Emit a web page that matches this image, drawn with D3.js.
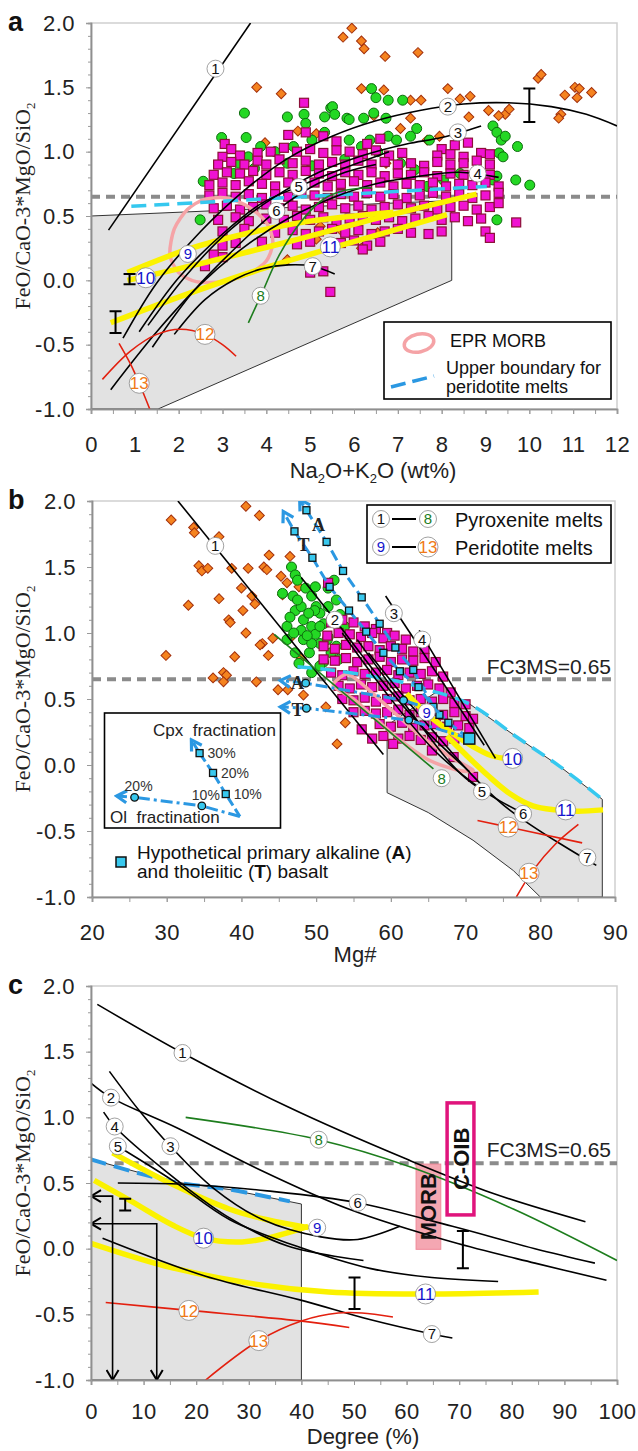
<!DOCTYPE html>
<html><head><meta charset="utf-8">
<script src="https://cdn.jsdelivr.net/npm/d3@7"></script>
<style>
body{margin:0;background:#fff;}
</style></head><body>
<script>
// ---------- shared ----------
const yTickVals = [-1, -0.5, 0, 0.5, 1, 1.5, 2];
const FC3MS = 0.65;

// ---------- panel a : Na2O+K2O ----------
const aXTicks = [0,1,2,3,4,5,6,7,8,9,10,11,12];
const aDiamonds = [[5.75,1.89],[5.95,1.96],[6.17,1.86],[6.23,1.80],[6.71,1.74],[7.46,1.77],[3.78,1.50],[4.34,1.45],[6.17,1.49],[6.68,1.48],[7.29,1.40],[7.53,1.40],[8.14,1.49],[8.42,1.41],[8.65,1.43],[8.62,1.27],[9.07,1.32],[9.45,1.29],[9.54,1.33],[10.2,1.57],[10.27,1.60],[10.81,1.44],[11.04,1.50],[11.14,1.49],[11.09,1.42],[11.42,1.46],[10.72,1.29],[10.67,1.26],[4.72,1.16],[7.06,1.18],[7.29,1.26],[7.67,1.09],[7.95,1.12],[6.73,0.91],[3.97,1.07],[5.14,1.14],[4.48,0.16],[5.14,0.32],[6.17,0.25],[5.23,0.42],[5.7,0.39],[6.54,0.37],[9.3,1.28],[6.45,1.28]];
const aCircles = [[2.98,1.11],[2.56,0.77],[2.49,0.47],[3.5,1.30],[3.54,1.11],[4.48,1.27],[4.86,1.29],[4.9,1.22],[5.33,1.27],[5.47,1.34],[5.51,1.35],[5.56,1.29],[5.84,1.26],[5.89,1.25],[6.22,1.26],[6.4,1.49],[6.5,1.42],[6.78,1.40],[6.45,1.30],[6.73,1.26],[7.11,1.40],[7.43,1.18],[7.72,1.09],[7.29,1.12],[6.78,1.12],[6.97,1.09],[6.36,1.09],[6.17,1.04],[6.54,1.00],[5.89,1.09],[5.33,1.15],[5.04,1.09],[4.62,1.04],[4.2,1.00],[3.87,1.04],[3.59,0.96],[3.36,0.91],[3.26,0.83],[9.17,1.20],[9.26,1.15],[9.36,1.09],[9.45,1.12],[9.31,0.99],[9.4,0.96],[9.73,1.04],[9.17,0.78],[9.26,0.81],[9.69,0.78],[10.01,0.74],[9.26,0.47],[8.04,0.78],[7.67,0.73],[7.06,0.91],[7.39,0.86],[8.42,0.83],[5.79,0.94],[5.04,0.89],[4.48,0.91],[3.73,0.87]];
const aSquares = [[4.5,1.13],[4.86,1.38],[4.9,1.15],[5.3,1.12],[5.6,1.08],[6.3,1.06],[6.6,1.1],[8.0,1.02],[8.3,1.05],[8.6,1.07],[3.05,1.06],[3.2,1.02],
[3.0,0.96],[3.4,0.97],[3.8,0.99],[4.1,1.0],[4.4,1.03],[4.7,1.0],[5.0,1.02],[5.3,0.99],[5.6,1.01],[5.9,1.0],[6.2,0.98],[6.5,1.01],[6.8,0.97],[7.1,0.99],[7.9,0.97],[8.2,0.98],[8.5,0.96],[8.9,0.99],[9.1,0.98],
[2.9,0.9],[3.2,0.92],[3.5,0.9],[3.8,0.93],[4.0,0.9],[4.3,0.94],[4.6,0.91],[4.9,0.93],[5.2,0.9],[5.5,0.92],[5.8,0.9],[6.1,0.93],[6.4,0.9],[6.7,0.92],[7.0,0.9],[7.3,0.91],[7.6,0.89],[7.9,0.92],[8.2,0.9],[8.5,0.91],[8.8,0.93],[9.1,0.9],
[2.8,0.82],[3.1,0.84],[3.4,0.83],[3.7,0.85],[4.0,0.82],[4.3,0.84],[4.6,0.82],[4.9,0.85],[5.2,0.83],[5.5,0.81],[5.8,0.84],[6.1,0.82],[6.4,0.84],[6.7,0.81],[7.0,0.83],[7.3,0.82],[7.6,0.84],[7.9,0.81],[8.2,0.83],[8.5,0.82],[8.8,0.84],[9.1,0.82],
[2.7,0.74],[3.0,0.76],[3.3,0.74],[3.6,0.77],[3.9,0.75],[4.2,0.73],[4.5,0.76],[4.8,0.74],[5.1,0.76],[5.4,0.73],[5.7,0.75],[6.0,0.77],[6.3,0.74],[6.6,0.76],[6.9,0.73],[7.2,0.75],[7.5,0.74],[7.8,0.76],[8.1,0.73],[8.4,0.75],[8.7,0.74],[9.0,0.76],[9.3,0.73],
[2.7,0.66],[3.0,0.68],[3.3,0.65],[3.6,0.67],[3.9,0.64],[4.2,0.67],[4.5,0.65],[4.8,0.68],[5.1,0.66],[5.4,0.64],[5.7,0.67],[6.0,0.65],[6.3,0.68],[6.6,0.65],[6.9,0.67],[7.2,0.64],[7.5,0.66],[7.8,0.68],[8.1,0.65],[8.4,0.67],[8.7,0.64],[9.0,0.66],[9.3,0.68],
[2.8,0.56],[3.1,0.58],[3.4,0.55],[3.7,0.57],[4.0,0.59],[4.3,0.56],[4.6,0.58],[4.9,0.55],[5.2,0.57],[5.5,0.59],[5.8,0.56],[6.1,0.58],[6.4,0.55],[6.7,0.57],[7.0,0.59],[7.3,0.56],[7.6,0.58],[7.9,0.55],[8.2,0.57],[8.5,0.58],[8.8,0.55],[9.1,0.57],[9.3,0.6],
[2.9,0.47],[3.3,0.49],[3.6,0.46],[4.0,0.48],[4.4,0.47],[4.7,0.5],[5.0,0.47],[5.3,0.49],[5.6,0.46],[5.9,0.48],[6.2,0.5],[6.5,0.47],[6.8,0.49],[7.1,0.46],[7.4,0.48],[7.7,0.5],[8.0,0.47],[8.3,0.49],[8.6,0.46],[8.9,0.48],[9.7,0.45],
[3.0,0.38],[3.5,0.4],[4.2,0.37],[4.6,0.39],[4.9,0.36],[5.2,0.38],[5.5,0.4],[5.8,0.37],[6.1,0.39],[6.4,0.36],[6.7,0.38],[7.0,0.4],[7.3,0.37],[7.7,0.36],[8.0,0.38],[9.0,0.38],[9.1,0.33],
[3.0,0.27],[3.3,0.29],[3.9,0.3],[4.7,0.28],[5.0,0.3],[5.4,0.27],[5.7,0.29],[6.0,0.31],[6.3,0.27],[6.6,0.3],[6.2,0.24],
[2.6,0.11],[3.0,0.18],[5.0,0.06],[5.3,0.07],[5.46,-0.09],[2.8,0.2]];
const aBlack = [
  [[0.4,0.39],[3.64,2.0]],
  [[0.73,-0.45],[1.5,-0.02],[2.5,0.38],[3.5,0.7],[4.5,0.95],[5.5,1.12],[6.5,1.24],[7.5,1.32],[8.5,1.37],[9.5,1.38],[10.5,1.35],[11.3,1.29],[12,1.2]],
  [[1.3,-0.35],[2.2,0.05],[3.2,0.4],[4.2,0.65],[5.2,0.84],[6.2,0.97],[7.2,1.06],[8.0,1.11],[8.9,1.2]],
  [[0.45,-0.85],[1.5,-0.4],[2.5,-0.03],[3.5,0.26],[4.5,0.48],[5.5,0.64],[6.5,0.75],[7.5,0.81],[8.4,0.84],[9.3,0.8]],
  [[1.1,-0.4],[2.0,0.02],[3.0,0.36],[3.9,0.6],[4.74,0.73],[5.6,0.85],[6.8,1.0]],
  [[1.4,-0.52],[2.3,-0.1],[3.2,0.22],[4.23,0.54],[5.0,0.72],[5.8,0.84],[6.5,0.9]],
  [[1.9,-0.42],[2.6,-0.15],[3.3,0.01],[3.9,0.09],[4.5,0.12],[5.06,0.11],[5.56,0.05]]
];
const aGreen = [[3.59,-0.33],[3.9,-0.1],[4.3,0.2],[4.8,0.46],[5.3,0.63],[5.8,0.7],[6.4,0.72]];
const aYellow = [
  [[0.83,0.06],[2.2,0.24],[3.5,0.36],[5,0.46],[6.9,0.53]],
  [[0.83,0.0],[2.5,0.13],[4.5,0.3],[6.5,0.48],[8.8,0.67]],
  [[0.45,-0.33],[2,-0.13],[4,0.1],[6,0.3],[8.12,0.51]]
];
const aRed = [
  [[0.26,-0.77],[0.9,-0.55],[1.5,-0.42],[2.04,-0.38],[2.6,-0.42],[3.0,-0.5],[3.31,-0.59]],
  [[0.64,-0.49],[0.9,-0.65],[1.1,-0.8],[1.34,-1.0]]
];
const aMorbLoop = [[1.8,0.2],[1.9,0.4],[2.2,0.55],[2.6,0.63],[3.1,0.64],[3.6,0.57],[4.0,0.45],[4.15,0.3],[4.0,0.15],[3.6,0.05],[3.0,-0.01],[2.4,-0.01],[2.0,0.06]];
const aBoundary = [[0.92,0.575],[9.03,0.73]];
const aField = [[0,0.5],[8.23,0.62],[8.23,0.0],[1.53,-1],[0,-1]];
const aErrors = [[10,1.23,1.49],[0.56,-0.41,-0.24],[0.88,-0.03,0.05]];
const aTags = [[2.84,1.645],[8.14,1.35],[8.37,1.15],[8.82,0.83],[4.74,0.725],[4.23,0.54],[5.06,0.11],[3.87,-0.12],[2.21,0.205],[1.25,0.02],[5.46,0.26],[2.6,-0.42],[1.1,-0.8]];

// ---------- panel b : Mg# ----------
const bXTicks = [20,30,40,50,60,70,80,90];
const bDiamonds = [[30.6,1.856],[33.6,1.80],[33.7,1.76],[40.6,1.96],[42.4,1.89],[37.0,1.73],[34.3,1.51],[34.7,1.47],[35.5,1.49],[38.7,1.49],[40.9,1.49],[43.0,1.50],[43.4,1.48],[43.7,1.59],[45.3,1.43],[46.5,1.58],[32.9,1.21],[37.0,1.26],[38.3,1.10],[38.5,1.08],[40.0,1.34],[40.2,1.17],[41.4,1.28],[41.8,1.22],[42.8,0.92],[44.2,0.96],[36.2,0.66],[37.6,0.70],[38.0,0.68],[37.6,0.63],[42.0,0.63],[29.9,0.83],[39.1,0.82],[42.5,0.91],[43.6,0.83],[46.5,0.96],[48.0,0.81],[44.9,0.57],[46.2,0.57],[48.3,0.53],[51.3,0.44],[53.9,0.32],[52.8,0.16],[46.1,1.38],[45.5,1.29],[47.7,1.35],[40.6,1.0]];
const bCircles = [[46.7,1.50],[47.2,1.44],[47.5,1.40],[45.5,1.30],[46.9,1.28],[48.6,1.34],[49.4,1.28],[50.0,1.20],[47.2,1.17],[48.3,1.10],[46.1,1.05],[49.4,1.05],[51.0,1.07],[52.4,1.40],[51.6,1.34],[52.7,1.25],[48.3,0.95],[50.5,0.92],[49.1,0.85],[47.7,0.77],[49.4,0.70],[51.0,0.78],[52.7,0.90],[53.8,1.05],[50.5,1.15],[49.8,1.17],[46.1,0.95],[49.9,0.99],[47.2,0.85],[51.6,0.97],[53.2,1.14],[49.9,1.35],[51.6,1.20],[48.0,1.02],[49.4,0.92],[50.5,0.75],[48,1.2],[47.5,1.25],[49,1.15],[50.5,1.05],[51.5,0.95],[48.8,0.98],[47,1.0],[46.5,1.12],[52,0.85],[53,0.8]];
const bSquares = [[51.6,1.38],[52,1.08],[53.5,1.1],[55,1.08],[56.5,1.05],[58,1.03],[59.5,1.0],
[51.5,0.98],[53,1.0],[54.5,0.99],[56,0.97],[57.5,1.0],[59,0.96],[60.5,0.98],[62,0.95],
[51,0.9],[52.5,0.88],[54,0.91],[55.5,0.89],[57,0.9],[58.5,0.87],[60,0.9],[61.5,0.88],[63,0.86],[64.5,0.88],
[51,0.8],[52.5,0.79],[54,0.81],[55.5,0.78],[57,0.8],[58.5,0.82],[60,0.78],[61.5,0.8],[63,0.79],[64.5,0.81],[66,0.78],
[52,0.7],[53.5,0.68],[55,0.71],[56.5,0.69],[58,0.7],[59.5,0.72],[61,0.68],[62.5,0.7],[64,0.69],[65.5,0.71],[67,0.67],
[53,0.6],[54.5,0.58],[56,0.61],[57.5,0.59],[59,0.6],[60.5,0.62],[62,0.58],[63.5,0.6],[65,0.61],[66.5,0.58],[68,0.55],
[53.5,0.5],[55,0.49],[56.5,0.51],[58,0.48],[59.5,0.5],[61,0.52],[62.5,0.49],[64,0.5],[65.5,0.48],[67,0.5],[68.5,0.47],[70,0.46],
[55,0.4],[56.5,0.41],[58,0.39],[59.5,0.4],[61,0.42],[62.5,0.38],[64,0.4],[65.5,0.41],[67,0.38],[68.5,0.4],[70,0.37],[71,0.35],
[56.1,0.27],[58.5,0.31],[60,0.29],[61.5,0.32],[63,0.28],[64.5,0.3],[66,0.31],[67.5,0.29],[69,0.3],[70.5,0.28],
[59,0.22],[61,0.2],[62.5,0.22],[64,0.19],[65.5,0.21],[67,0.18],[68.5,0.2],[60.3,0.16],
[65.5,0.11],[68.4,0.06],[71.0,-0.09],[57.5,0.2]];
const bBlack = [
  [[31.5,2.0],[59.0,0.08]],
  [[48.0,1.42],[52.5,1.10],[58.5,0.66],[64,0.3],[70.5,-0.05]],
  [[59.3,1.28],[72.5,0.15]],
  [[63.8,1.02],[74.0,0.05]],
  [[53.5,1.0],[60,0.5],[66,0.1],[72.0,-0.18]],
  [[55.5,0.95],[62,0.45],[70,-0.1],[77.5,-0.36]],
  [[57,0.85],[65,0.3],[75,-0.3],[87.5,-0.76]]
];
const bGreen = [[44.4,0.99],[65.7,-0.03]];
const bYellow = [
  [[62.1,0.54],[65,0.38],[68,0.25],[71,0.14],[73.5,0.07],[75.3,0.05]],
  [[67.5,0.22],[70,0.08],[73,-0.08],[76,-0.22],[79,-0.31],[82,-0.34],[85,-0.35],[88.4,-0.34]]
];
const bRed = [
  [[71.6,-0.42],[85.6,-0.59]],
  [[76.8,-1.0],[79,-0.8],[82,-0.6],[85.1,-0.45]]
];
const bMorbLoop = [[52.3,0.60],[54.1,0.69],[56,0.62],[60,0.42],[64,0.22],[68,0.06],[71,-0.04],[69,-0.04],[65,0.04],[61,0.2],[57,0.4],[55,0.5]];
const bBoundary = [[47.5,0.745],[52,0.72],[57.6,0.67],[62,0.62],[65,0.57],[70.6,0.46],[76.9,0.21],[82.6,-0.01],[88.3,-0.26]];
const bField = [[59.5,0.30],[59.5,-0.21],[65,-0.36],[71,-0.57],[76.4,-0.8],[80,-1.0],[88.3,-1.0],[88.3,-0.26],[82.6,-0.01],[76.9,0.21],[70.6,0.46],[66,0.55]];
const bCpxA = [[70.5,0.20],[67.7,0.32],[65.7,0.44],[63.0,0.72],[60.6,0.89],[58.5,1.07],[56.1,1.27],[53.6,1.47],[51.4,1.69],[48.7,1.93],[47.8,2.01]];
const bCpxT = [[66.5,0.38],[63.7,0.59],[61.2,0.71],[59.0,0.85],[56.7,1.01],[54.4,1.17],[51.8,1.35],[49.5,1.57],[47.1,1.77],[45.6,1.92]];
const bOlA = [[66.5,0.40],[61.7,0.49],[48.6,0.62],[45.2,0.64]];
const bOlT = [[70.5,0.2],[62.4,0.34],[48.7,0.43],[45.2,0.44]];
const bInsetCpx = [[39.8,-0.39],[37.9,-0.22],[36.2,-0.06],[34.4,0.09],[33.3,0.19]];
const bInsetOl = [[39.8,-0.39],[34.7,-0.31],[25.7,-0.245],[23.3,-0.235]];
const bInsetCpxPct = ["10%","20%","30%"];
const bInsetOlPct = ["10%","20%"];
const bTags = [[36.5,1.66],[52.5,1.10],[60.4,1.15],[64.2,0.95],[72.2,-0.2],[77.7,-0.37],[86.3,-0.7],[66.8,-0.1],[64.8,0.40],[76.3,0.05],[83.4,-0.34],[75.7,-0.47],[78.5,-0.82]];

// ---------- panel c : Degree ----------
const cXTicks = [0,10,20,30,40,50,60,70,80,90,100];
const cBlack = [
  [[1.2,1.86],[17.4,1.49],[37.4,1.08],[60.1,0.68],[76.5,0.42],[94,0.205]],
  [[0,1.26],[3.8,1.15],[16.3,0.92],[31.1,0.62],[49.1,0.30],[68.7,0.05],[84.4,-0.11],[98,-0.24]],
  [[3.5,1.35],[9.2,1.05],[15.1,0.78],[23.3,0.46],[32.7,0.22],[43.7,0.09],[50.7,0.07],[58.7,0.17]],
  [[2.4,1.04],[4.5,0.93],[13.9,0.6],[25.7,0.25],[37.4,0.02],[51.8,-0.09]],
  [[5.1,0.78],[15.5,0.52],[26.4,0.22],[39,0.02],[53,-0.15],[64.8,-0.22],[77.4,-0.25]],
  [[5.1,0.5],[17.8,0.49],[33.5,0.44],[50.7,0.35],[68.7,0.17],[84.4,0.0],[95.8,-0.11]],
  [[2.2,0.08],[21.8,-0.21],[39.7,-0.39],[53,-0.54],[64.8,-0.65],[68.7,-0.68]]
];
const cGreen = [[18.0,1.0],[43.3,0.83],[60.9,0.62],[80.4,0.30],[100,-0.09]];
const cYellow = [
  [[4.1,0.73],[15.5,0.49],[26.4,0.30],[33.5,0.22],[41.3,0.16]],
  [[0.6,0.52],[7.7,0.36],[15.5,0.18],[21.4,0.08],[28,0.05],[33.5,0.08],[41.3,0.17]],
  [[0,0.04],[13.9,-0.13],[29.6,-0.26],[45.2,-0.33],[63.6,-0.345],[85.1,-0.33]]
];
const cRed = [
  [[2.8,-0.41],[18.6,-0.47],[39.7,-0.55],[49.1,-0.6]],
  [[21.8,-1.0],[31.9,-0.70],[40,-0.55],[47,-0.49],[51.5,-0.49],[57.4,-0.52]]
];
const cBoundary = [[0,0.68],[15.5,0.51],[26.4,0.45],[37.8,0.36]];
const cField = [[0,0.68],[15.5,0.51],[26.4,0.45],[40,0.34],[40,-1],[0,-1]];
const cErrors = [[70.7,-0.15,0.134],[50.1,-0.46,-0.22],[6.5,0.29,0.38]];
const cArrows = [[4.1,0.40],[12.5,0.19]];
const cMorbBox = [61.8,66.5,-0.005,0.644];
const cOibBox = [67.7,72.8,0.257,1.11];
const cTags = [[17.4,1.49],[3.8,1.15],[15.1,0.78],[4.5,0.93],[5.1,0.78],[50.7,0.35],[64.8,-0.65],[43.3,0.83],[43.0,0.16],[21.4,0.08],[63.6,-0.345],[18.6,-0.47],[31.9,-0.70]];

// ---------- styles ----------
const SANS = "Liberation Sans, Arial, sans-serif";
const SERIF = "Liberation Serif, Times New Roman, serif";
const col = {
  sq: "#f012d2", sqEdge: "#8c1038",
  ci: "#24d824", ciEdge: "#0d6b0d",
  di: "#f5831f", diEdge: "#a3300c",
  field: "#e2e2e2", yellow: "#fbf200", red: "#e3200f", green: "#1d7d1d",
  pink: "#f5a3a6", cyan: "#35c8ef", blue: "#2b98e2", dash: "#8b8b8b"
};
const tagColor = i => i < 7 ? "#111" : i === 7 ? "#1d7d1d" : i < 11 ? "#1414cc" : "#f07a18";

const svg = d3.select("body").append("svg").attr("width", 638).attr("height", 1451).attr("font-family", SANS);
const defs = svg.append("defs");
defs.append("marker").attr("id", "chev").attr("viewBox", "0 0 16 16").attr("refX", 13).attr("refY", 8)
  .attr("markerWidth", 16).attr("markerHeight", 16).attr("markerUnits", "userSpaceOnUse").attr("orient", "auto")
  .append("path").attr("d", "M3,2L13,8L3,14").attr("fill", "none").attr("stroke", col.blue).attr("stroke-width", 3.2);
defs.append("marker").attr("id", "vhead").attr("viewBox", "0 0 14 14").attr("refX", 12).attr("refY", 7)
  .attr("markerWidth", 14).attr("markerHeight", 14).attr("markerUnits", "userSpaceOnUse").attr("orient", "auto-start-reverse")
  .append("path").attr("d", "M2,1L12,7L2,13").attr("fill", "none").attr("stroke", "#000").attr("stroke-width", 2);

function makePanel(id, dom, left, right, top, bottom) {
  const x = d3.scaleLinear().domain(dom).range([left, right]);
  const y = d3.scaleLinear().domain([-1, 2]).range([bottom, top]);
  const root = svg.append("g");
  defs.append("clipPath").attr("id", "clip" + id).append("rect")
    .attr("x", left).attr("y", top).attr("width", right - left).attr("height", bottom - top);
  root.append("rect").attr("x", left).attr("y", top).attr("width", right - left).attr("height", bottom - top)
    .attr("fill", "none").attr("stroke", "#cfcfcf").attr("stroke-width", 1.5);
  const g = root.append("g").attr("clip-path", `url(#clip${id})`);
  return { id, x, y, g, root, left, right, top, bottom };
}

const lineOf = (P, curve) => d3.line().x(d => P.x(d[0])).y(d => P.y(d[1])).curve(curve || d3.curveCatmullRom.alpha(0.5));

function curves(P, list, color, width, dash) {
  list.forEach(pts => {
    P.g.append("path").attr("d", lineOf(P)(pts)).attr("fill", "none").attr("stroke", color)
      .attr("stroke-width", width).attr("stroke-dasharray", dash || null);
  });
}
function field(P, pts) {
  P.g.append("path").attr("d", lineOf(P, d3.curveLinear)(pts) + "Z").attr("fill", col.field).attr("stroke", "#333").attr("stroke-width", 1);
}
function fcLine(P, x0, x1) {
  P.g.append("line").attr("x1", P.x(x0)).attr("x2", P.x(x1)).attr("y1", P.y(FC3MS)).attr("y2", P.y(FC3MS))
    .attr("stroke", col.dash).attr("stroke-width", 4).attr("stroke-dasharray", "9,6");
}
function diamonds(P, pts) {
  P.g.append("g").selectAll("rect").data(pts).join("rect")
    .attr("x", -3.5).attr("y", -3.5).attr("width", 7).attr("height", 7)
    .attr("transform", d => `translate(${P.x(d[0])},${P.y(d[1])}) rotate(45)`)
    .attr("fill", col.di).attr("stroke", col.diEdge).attr("stroke-width", 1);
}
function circles(P, pts) {
  P.g.append("g").selectAll("circle").data(pts).join("circle")
    .attr("cx", d => P.x(d[0])).attr("cy", d => P.y(d[1])).attr("r", 5)
    .attr("fill", col.ci).attr("stroke", col.ciEdge).attr("stroke-width", 1);
}
function squares(P, pts) {
  P.g.append("g").selectAll("rect").data(pts).join("rect")
    .attr("x", d => P.x(d[0]) - 4.5).attr("y", d => P.y(d[1]) - 4.5).attr("width", 9).attr("height", 9)
    .attr("fill", col.sq).attr("stroke", col.sqEdge).attr("stroke-width", 1.2);
}
function loop(P, pts) {
  P.g.append("path").attr("d", lineOf(P, d3.curveCardinalClosed.tension(0.2))(pts))
    .attr("fill", "none").attr("stroke", col.pink).attr("stroke-width", 3.5);
}
function errBars(P, list) {
  list.forEach(([xv, y0, y1]) => {
    const px = P.x(xv), a = P.y(y0), b = P.y(y1);
    P.g.append("path").attr("d", `M${px},${a}V${b}M${px - 6},${a}h12M${px - 6},${b}h12`)
      .attr("stroke", "#000").attr("stroke-width", 2).attr("fill", "none");
  });
}
function tagAt(g, cx, cy, txt, color) {
  const two = txt.length > 1;
  g.append("circle").attr("cx", cx).attr("cy", cy).attr("r", two ? 10 : 8.5)
    .attr("fill", "#fff").attr("stroke", "#8a8a8a").attr("stroke-width", 0.8);
  g.append("text").attr("x", cx).attr("y", cy).attr("dy", "0.36em").attr("text-anchor", "middle")
    .attr("font-size", two ? 17 : 15).attr("fill", color).text(txt);
}
function tags(P, list) {
  list.forEach((d, i) => tagAt(P.root, P.x(d[0]), P.y(d[1]), String(i + 1), tagColor(i)));
}
function axes(P, xTicks, xMinorStep, letter, xTitle, titleX, titleGap, xPad) {
  const yAxis = d3.axisLeft(P.y).tickValues(yTickVals).tickFormat(d => d.toFixed(1)).tickSize(5).tickPadding(11);
  const yMinor = d3.axisLeft(P.y).tickValues(d3.range(-1, 2.001, 0.1)).tickFormat("").tickSize(3);
  const [d0, d1] = P.x.domain();
  const xAxis = d3.axisBottom(P.x).tickValues(xTicks).tickFormat(d => d).tickSize(5).tickPadding(xPad);
  const xMinor = d3.axisBottom(P.x).tickValues(d3.range(d0, d1 + 0.001, xMinorStep)).tickFormat("").tickSize(5);
  const style = s => { s.select(".domain").attr("stroke", "#8f8f8f").attr("stroke-width", 1.5);
    s.selectAll(".tick line").attr("stroke", "#9a9a9a");
    s.selectAll("text").attr("font-size", 22).attr("fill", "#222").attr("font-family", SANS).attr("letter-spacing", 0.5); };
  P.root.append("g").attr("transform", `translate(${P.left},0)`).call(yMinor).call(style);
  P.root.append("g").attr("transform", `translate(${P.left},0)`).call(yAxis).call(style);
  P.root.append("g").attr("transform", `translate(0,${P.bottom})`).call(xMinor).call(style);
  P.root.append("g").attr("transform", `translate(0,${P.bottom})`).call(xAxis).call(style);
  P.root.append("text").attr("x", 8).attr("y", P.top + 8).attr("font-size", 27).attr("font-weight", "bold").attr("fill", "#111").text(letter);
  const yt = P.root.append("text").attr("transform", `translate(30,${(P.top + P.bottom) / 2 - 10}) rotate(-90)`)
    .attr("text-anchor", "middle").attr("font-size", 22).attr("fill", "#222").attr("font-family", SERIF);
  yt.append("tspan").text("FeO/CaO-3*MgO/SiO");
  yt.append("tspan").attr("font-size", 13).attr("dy", 5).text("2");
  const xt = P.root.append("text").attr("x", titleX).attr("y", P.bottom + titleGap).attr("text-anchor", "middle")
    .attr("font-size", 22).attr("fill", "#222");
  xTitle.forEach(([t, sub], i) => {
    const prevSub = i > 0 && xTitle[i - 1][1];
    const ts = xt.append("tspan").text(t);
    if (sub) ts.attr("font-size", 13).attr("dy", 5);
    else if (prevSub) ts.attr("dy", -5);
  });
}

// ================= PANEL A =================
const A = makePanel("a", [0, 12], 91, 617, 23, 409);
field(A, aField);
fcLine(A, 0, 12);
diamonds(A, aDiamonds);
circles(A, aCircles);
squares(A, aSquares);
loop(A, aMorbLoop);
curves(A, aYellow, col.yellow, 5.5);
curves(A, [aBoundary], col.cyan, 3.5, "15,8");
curves(A, aBlack, "#000", 1.6);
curves(A, [aGreen], col.green, 1.6);
curves(A, aRed, col.red, 1.6);
errBars(A, aErrors);
tags(A, aTags);
axes(A, aXTicks, 0.5, "a", [["Na", false], ["2", true], ["O+K", false], ["2", true], ["O (wt%)", false]], 373, 69, 22);
// legend a
(() => {
  const g = A.root.append("g");
  g.append("rect").attr("x", 384).attr("y", 322).attr("width", 227).attr("height", 77).attr("fill", "#fff").attr("stroke", "#000").attr("stroke-width", 1.6);
  g.append("ellipse").attr("cx", 419).attr("cy", 343).attr("rx", 15).attr("ry", 9).attr("transform", "rotate(-12,419,343)")
    .attr("fill", "none").attr("stroke", col.pink).attr("stroke-width", 3.5);
  g.append("text").attr("x", 450).attr("y", 347).attr("font-size", 18).attr("fill", "#111").text("EPR MORB");
  g.append("line").attr("x1", 391).attr("y1", 387).attr("x2", 434).attr("y2", 376).attr("stroke", col.blue).attr("stroke-width", 3.5).attr("stroke-dasharray", "15,7");
  g.append("text").attr("x", 446).attr("y", 374).attr("font-size", 18).attr("fill", "#111").text("Upper boundary for");
  g.append("text").attr("x", 446).attr("y", 393).attr("font-size", 18).attr("fill", "#111").text("peridotite melts");
})();

// ================= PANEL B =================
const B = makePanel("b", [20, 90], 92, 615, 501, 897);
field(B, bField);
fcLine(B, 20, 90);
diamonds(B, bDiamonds);
circles(B, bCircles);
squares(B, bSquares);
loop(B, bMorbLoop);
curves(B, [bBoundary], col.cyan, 3.5, "15,8");
curves(B, bYellow, col.yellow, 5.5);
curves(B, bBlack, "#000", 1.6);
curves(B, [bGreen], col.green, 1.6);
curves(B, bRed, col.red, 1.6);
// fractionation paths
function fracPath(P, pts, dash, mark, g) {
  const ln = d3.line().x(d => P.x(d[0])).y(d => P.y(d[1]));
  const tgt = g || P.g;
  tgt.append("path").attr("d", ln(pts)).attr("fill", "none").attr("stroke", col.blue).attr("stroke-width", 3)
    .attr("stroke-dasharray", dash).attr("marker-end", "url(#chev)");
  const inner = pts.slice(0, -1);
  if (mark === "sq") {
    tgt.append("g").selectAll("rect").data(g ? inner.slice(1) : inner).join("rect")
      .attr("x", d => P.x(d[0]) - 3.5).attr("y", d => P.y(d[1]) - 3.5).attr("width", 7).attr("height", 7)
      .attr("fill", "#38c8ee").attr("stroke", "#111").attr("stroke-width", 1.3);
  } else {
    tgt.append("g").selectAll("circle").data(inner.slice(1)).join("circle")
      .attr("cx", d => P.x(d[0])).attr("cy", d => P.y(d[1])).attr("r", 3.8)
      .attr("fill", "#38c8ee").attr("stroke", "#111").attr("stroke-width", 1.3);
  }
}
fracPath(B, bCpxA, "11,5", "sq");
fracPath(B, bCpxT, "11,5", "sq");
fracPath(B, bOlA, "12,4,3,4", "ci");
fracPath(B, bOlT, "12,4,3,4", "ci");
// big primary square
B.g.append("rect").attr("x", B.x(70.5) - 5.5).attr("y", B.y(0.2) - 5.5).attr("width", 11).attr("height", 11)
  .attr("fill", "#38c8ee").attr("stroke", "#111").attr("stroke-width", 1.5);
const serifBold = (x, y, t) => B.root.append("text").attr("x", B.x(x)).attr("y", B.y(y)).attr("dy", "0.35em")
  .attr("text-anchor", "middle").attr("font-family", SERIF).attr("font-weight", "bold")
  .attr("font-size", 18).attr("fill", "#222").text(t);
serifBold(50.3, 1.82, "A"); serifBold(48.3, 1.67, "T"); serifBold(47.5, 0.62, "A"); serifBold(47.5, 0.42, "T");
tags(B, bTags);
axes(B, bXTicks, 5, "b", [["Mg#", false]], 355, 65, 22);
B.root.append("text").attr("x", 611).attr("y", 674).attr("text-anchor", "end").attr("font-size", 21).attr("fill", "#222").text("FC3MS=0.65");
// legend b
(() => {
  const g = B.root.append("g");
  g.append("rect").attr("x", 367).attr("y", 505).attr("width", 244).attr("height", 58).attr("fill", "#fff").attr("stroke", "#000").attr("stroke-width", 1.6);
  [[519, "1", "8", "Pyroxenite melts", 0, 7], [547, "9", "13", "Peridotite melts", 8, 12]].forEach(([cy, t1, t2, lab, i1, i2]) => {
    tagAt(g, 381, cy, t1, tagColor(i1));
    g.append("line").attr("x1", 392).attr("x2", 416).attr("y1", cy).attr("y2", cy).attr("stroke", "#000").attr("stroke-width", 2);
    tagAt(g, 428, cy, t2, tagColor(i2));
    g.append("text").attr("x", 455).attr("y", cy + 8).attr("font-size", 20).attr("fill", "#111").text(lab);
  });
  // inset
  g.append("rect").attr("x", 104.5).attr("y", 713).attr("width", 176).attr("height", 115).attr("fill", "#fff").attr("stroke", "#000").attr("stroke-width", 1.6);
  g.append("text").attr("x", 153).attr("y", 736).attr("font-size", 17).attr("fill", "#222").attr("xml:space", "preserve").text("Cpx  fractination");
  g.append("text").attr("x", 110).attr("y", 823).attr("font-size", 17).attr("fill", "#222").attr("xml:space", "preserve").text("Ol  fractination");
  fracPath(B, bInsetCpx, "9,4", "sq", g);
  fracPath(B, bInsetOl, "12,4,3,4", "ci", g);
  bInsetCpx.slice(1, 4).forEach((d, i) => g.append("text").attr("x", B.x(d[0]) + 8).attr("y", B.y(d[1]) + 5)
    .attr("font-size", 14).attr("fill", "#333").text(bInsetCpxPct[i]));
  bInsetOl.slice(1, 3).forEach((d, i) => g.append("text").attr("x", B.x(d[0]) - 10).attr("y", B.y(d[1]) - 6)
    .attr("font-size", 14).attr("fill", "#333").text(bInsetOlPct[i]));
  // hypothetical basalt legend
  g.append("rect").attr("x", 116).attr("y", 857).attr("width", 10).attr("height", 10).attr("fill", "#38c8ee").attr("stroke", "#111").attr("stroke-width", 1.5);
  const t1 = g.append("text").attr("x", 137).attr("y", 859).attr("font-size", 19).attr("fill", "#111");
  t1.append("tspan").text("Hypothetical primary alkaline (");
  t1.append("tspan").attr("font-weight", "bold").text("A");
  t1.append("tspan").text(")");
  const t2 = g.append("text").attr("x", 137).attr("y", 878).attr("font-size", 19).attr("fill", "#111");
  t2.append("tspan").text("and tholeiitic (");
  t2.append("tspan").attr("font-weight", "bold").text("T");
  t2.append("tspan").text(") basalt");
})();

// ================= PANEL C =================
const C = makePanel("c", [0, 100], 91, 617, 986, 1380);
field(C, cField);
fcLine(C, 4.5, 100);
curves(C, [cBoundary], col.blue, 4, "16,8");
C.g.append("rect").attr("x", C.x(cMorbBox[0])).attr("y", C.y(cMorbBox[3])).attr("width", C.x(cMorbBox[1]) - C.x(cMorbBox[0]))
  .attr("height", C.y(cMorbBox[2]) - C.y(cMorbBox[3])).attr("fill", "#f4a7b2").attr("stroke", "#f08a9a").attr("stroke-width", 1);
curves(C, cYellow, col.yellow, 5.5);
curves(C, cBlack, "#000", 1.6);
curves(C, [cGreen], col.green, 1.6);
curves(C, cRed, col.red, 1.6);
C.g.append("rect").attr("x", C.x(cOibBox[0])).attr("y", C.y(cOibBox[3])).attr("width", C.x(cOibBox[1]) - C.x(cOibBox[0]))
  .attr("height", C.y(cOibBox[2]) - C.y(cOibBox[3])).attr("fill", "none").attr("stroke", "#e0147c").attr("stroke-width", 3.5);
[[cMorbBox, "MORB"], [cOibBox, "C-OIB"]].forEach(([bx, t]) => {
  const cx = (C.x(bx[0]) + C.x(bx[1])) / 2, cy = (C.y(bx[2]) + C.y(bx[3])) / 2;
  C.root.append("text").attr("transform", `translate(${cx + 8},${cy}) rotate(-90)`).attr("text-anchor", "middle")
    .attr("font-size", 22).attr("font-weight", "bold").attr("fill", "#111").text(t);
});
cArrows.forEach(([xv, yv]) => {
  C.g.append("path").attr("d", `M${C.x(0)},${C.y(yv)}H${C.x(xv)}V${C.y(-1)}`).attr("fill", "none")
    .attr("stroke", "#000").attr("stroke-width", 1.6).attr("marker-start", "url(#vhead)").attr("marker-end", "url(#vhead)");
});
errBars(C, cErrors);
tags(C, cTags);
axes(C, cXTicks, 5, "c", [["Degree (%)", false]], 363, 64, 18);
C.root.append("text").attr("x", 611).attr("y", 1157).attr("text-anchor", "end").attr("font-size", 21).attr("fill", "#222").text("FC3MS=0.65");
</script></body></html>
